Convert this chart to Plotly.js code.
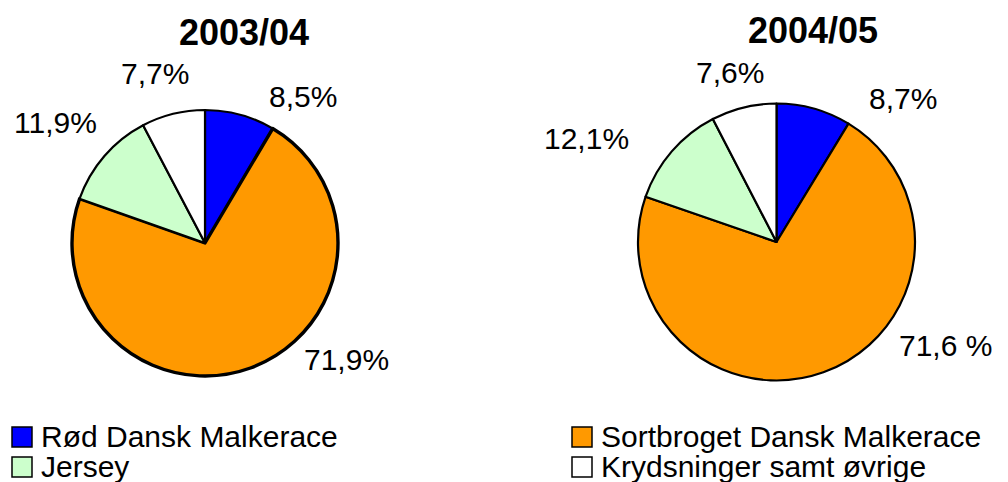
<!DOCTYPE html>
<html>
<head>
<meta charset="utf-8">
<script src="https://cdn.plot.ly/plotly-3.0.1.min.js"></script>
<style>html,body{margin:0;padding:0;background:#fff;}#chart{width:1008px;height:482px;}</style>
</head>
<body>
<div id="chart"></div>
<script>
const categories = ['Rød Dansk Malkerace', 'Sortbroget Dansk Malkerace', 'Jersey', 'Krydsninger samt øvrige'];
const seasons = ['2003/04', '2004/05'];
const values0304 = [8.5, 71.9, 11.9, 7.7];
const values0405 = [8.7, 71.6, 12.1, 7.6];
const labels0304 = ['8,5%', '71,9%', '11,9%', '7,7%'];
const labels0405 = ['8,7%', '71,6 %', '12,1%', '7,6%'];
const colors = ['#0000FF', '#FF9900', '#CCFFCC', '#FFFFFF'];

const W = 1008, H = 482;
const px = x => x / W;
const py = y => 1 - y / H;
const FONT = 'Liberation Sans, Arial, sans-serif';

const traces = [
  {
    type: 'pie', values: values0304, labels: categories, sort: false, direction: 'clockwise', rotation: 0,
    marker: {colors: colors, line: {color: '#000', width: [2.2, 3.4, 2.2, 2.2]}},
    textinfo: 'none', hoverinfo: 'label+percent', showlegend: false,
    domain: {x: [px(72), px(338)], y: [py(378), py(108)]}
  },
  {
    type: 'pie', values: values0405, labels: categories, sort: false, direction: 'clockwise', rotation: 0,
    marker: {colors: colors, line: {color: '#000', width: 2.2}},
    textinfo: 'none', hoverinfo: 'label+percent', showlegend: false,
    domain: {x: [px(638), px(915)], y: [py(381), py(103)]}
  }
];

// label positions (pixels) for each slice
const labelPos0304 = [[303, 97], [346, 359], [55, 123], [155, 73]];
const labelPos0405 = [[903, 99], [945, 345], [586, 138], [730, 72]];

const annotations = [];
function addText(text, x, y, size, bold, xanchor) {
  annotations.push({
    text: bold ? '<b>' + text + '</b>' : text,
    x: px(x), y: py(y), xref: 'paper', yref: 'paper',
    xanchor: xanchor || 'center', yanchor: 'middle', showarrow: false,
    font: {family: FONT, size: size, color: '#000'}
  });
}
addText(seasons[0], 244, 33, 36, true);
addText(seasons[1], 813, 31, 36, true);
labels0304.forEach((t, i) => addText(t, labelPos0304[i][0], labelPos0304[i][1], 30, false));
labels0405.forEach((t, i) => addText(t, labelPos0405[i][0], labelPos0405[i][1], 30, false));

// manual legend
const legendPos = [[12, 437], [572, 437], [12, 467], [572, 467]];
const shapes = [];
categories.forEach((c, i) => {
  const [x, y] = legendPos[i];
  shapes.push({
    type: 'rect', xref: 'paper', yref: 'paper',
    x0: px(x), x1: px(x + 20), y0: py(y + 10), y1: py(y - 10),
    fillcolor: colors[i], line: {color: '#000', width: 1.5}
  });
  addText(c, x + 27, y - 1, 30, false, 'left');
});

const layout = {
  width: W, height: H,
  margin: {l: 0, r: 0, t: 0, b: 0},
  paper_bgcolor: '#fff', plot_bgcolor: '#fff',
  showlegend: false,
  font: {family: FONT},
  annotations: annotations,
  shapes: shapes
};

Plotly.newPlot('chart', traces, layout, {displayModeBar: false, staticPlot: true});
</script>
</body>
</html>
